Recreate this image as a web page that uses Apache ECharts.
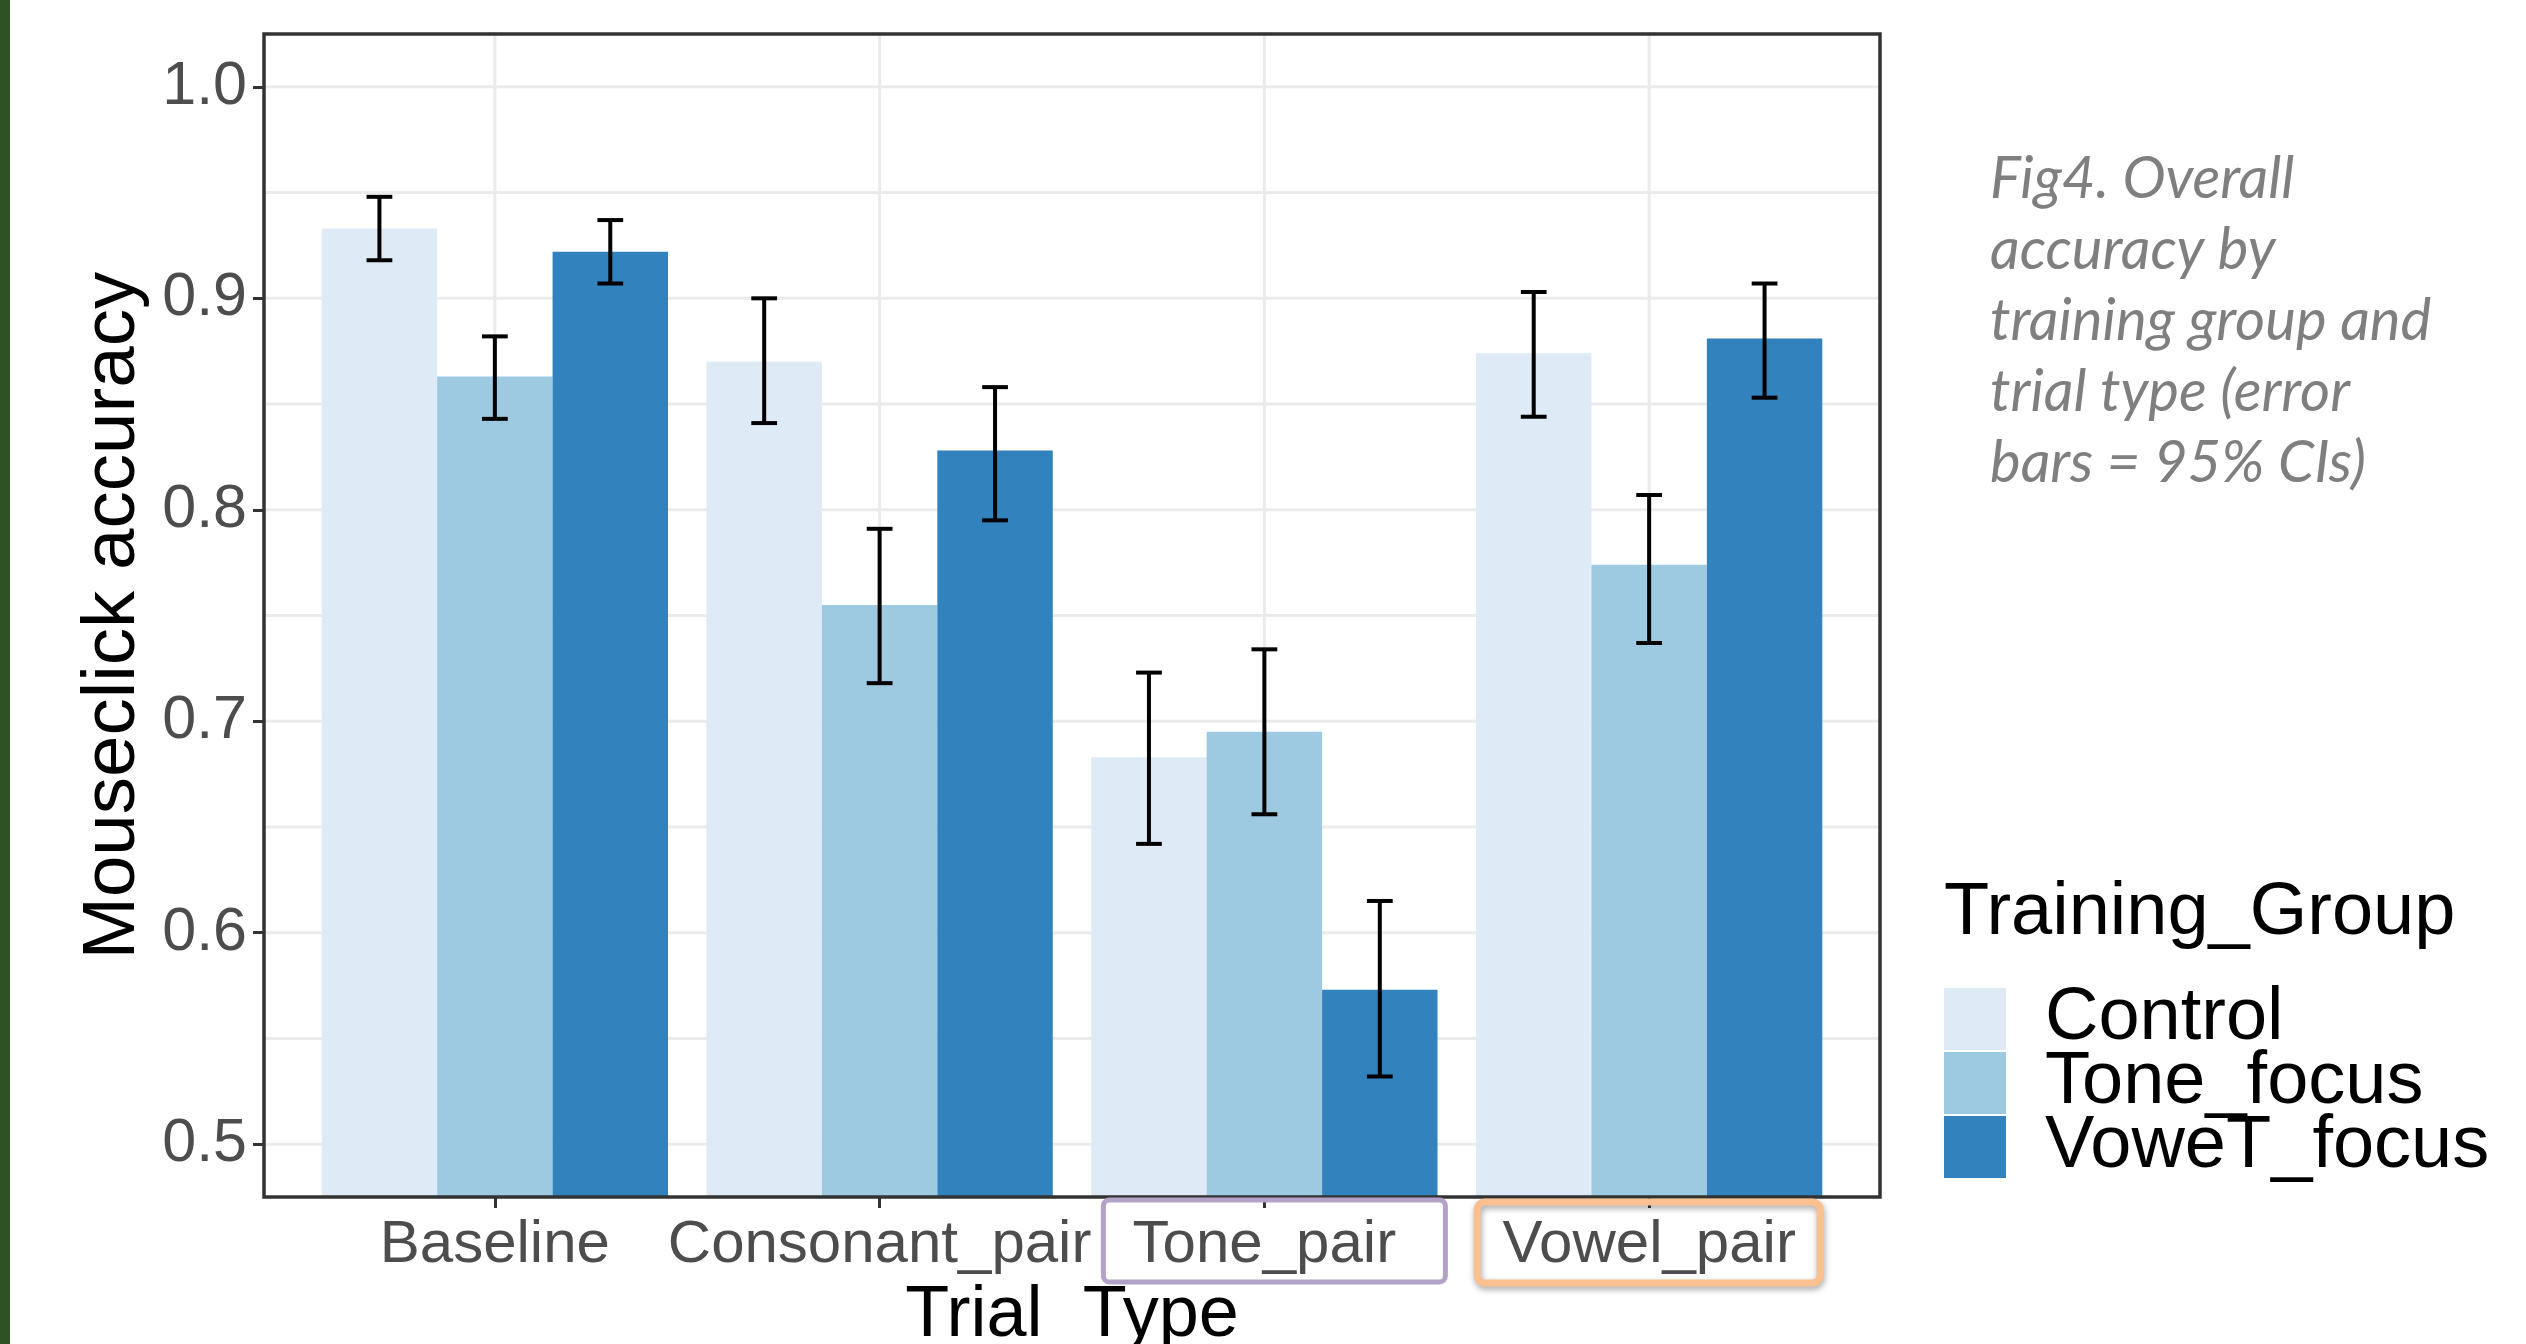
<!DOCTYPE html>
<html><head><meta charset="utf-8">
<script src="https://cdn.jsdelivr.net/npm/echarts@6/dist/echarts.min.js"></script>
<style>html,body{margin:0;padding:0;background:#fff}#c{width:2526px;height:1344px}</style>
</head><body><div id="c"></div>
<script>
// ---- data ----
const categories = ['Baseline', 'Consonant_pair', 'Tone_pair', 'Vowel_pair'];
const groups = ['Control', 'Tone_focus', 'VoweT_focus'];
const controlMean = [0.933, 0.870, 0.683, 0.874];
const controlLow  = [0.918, 0.841, 0.642, 0.844];
const controlHigh = [0.948, 0.900, 0.723, 0.903];
const toneMean = [0.863, 0.755, 0.695, 0.774];
const toneLow  = [0.843, 0.718, 0.656, 0.737];
const toneHigh = [0.882, 0.791, 0.734, 0.807];
const vowelMean = [0.922, 0.828, 0.573, 0.881];
const vowelLow  = [0.907, 0.795, 0.532, 0.853];
const vowelHigh = [0.937, 0.858, 0.615, 0.907];
const yMajorTicks = [0.5, 0.6, 0.7, 0.8, 0.9, 1.0];
const yMinorTicks = [0.55, 0.65, 0.75, 0.85, 0.95];
const captionLines = ['Fig4. Overall', 'accuracy by', 'training group and', 'trial type (error', 'bars = 95% CIs)'];

// ---- style ----
const colors = ['#DEEBF7', '#9ECAE1', '#3182BD'];
const means = [controlMean, toneMean, vowelMean];
const lows = [controlLow, toneLow, vowelLow];
const highs = [controlHigh, toneHigh, vowelHigh];
const offsets = [-0.3, 0, 0.3];
const barUnit = 0.3, capUnit = 0.067;
const FONT = '"Liberation Sans", Arial, sans-serif';
const catIdx = categories.map((c, i) => i);

const chart = echarts.init(document.getElementById('c'), null, {renderer: 'canvas'});

const gridLineSeries = {
  type: 'custom', name: 'hgrid', silent: true, z: 0,
  data: yMajorTicks.concat(yMinorTicks).map(v => [0, v]),
  renderItem(params, api) {
    const cs = params.coordSys;
    const p = api.coord([0, api.value(1)]);
    return {type: 'line', shape: {x1: cs.x, y1: p[1], x2: cs.x + cs.width, y2: p[1]},
      style: {stroke: '#EBEBEB', lineWidth: 3}};
  }
};
const vGridSeries = {
  type: 'custom', name: 'vgrid', silent: true, z: 0,
  data: catIdx.map(i => [i, 0.5]),
  renderItem(params, api) {
    const cs = params.coordSys;
    const p = api.coord([api.value(0), 0.5]);
    return {type: 'line', shape: {x1: p[0], y1: cs.y, x2: p[0], y2: cs.y + cs.height},
      style: {stroke: '#EBEBEB', lineWidth: 3}};
  }
};

function barSeries(gi) {
  return {
    type: 'custom', name: groups[gi], z: 2 + gi,
    itemStyle: {color: colors[gi]},
    data: catIdx.map(i => [i, means[gi][i]]),
    encode: {x: 0, y: 1},
    renderItem(params, api) {
      const xc = api.value(0) + offsets[gi];
      const top = api.coord([xc, api.value(1)]);
      const cs = params.coordSys;
      const w = api.size([barUnit, 0])[0];
      return {type: 'rect', shape: {x: top[0] - w / 2, y: top[1], width: w, height: cs.y + cs.height - top[1]},
        style: {fill: colors[gi]}};
    }
  };
}
function errSeries(gi) {
  return {
    type: 'custom', name: 'err' + gi, z: 10, silent: true,
    data: catIdx.map(i => [i, lows[gi][i], highs[gi][i]]),
    encode: {x: 0, y: [1, 2]},
    renderItem(params, api) {
      const xc = api.value(0) + offsets[gi];
      const lo = api.coord([xc, api.value(1)]);
      const hi = api.coord([xc, api.value(2)]);
      const cw = api.size([capUnit, 0])[0];
      const st = {stroke: '#000', lineWidth: 4};
      return {type: 'group', children: [
        {type: 'line', shape: {x1: lo[0], y1: hi[1], x2: lo[0], y2: lo[1]}, style: st},
        {type: 'line', shape: {x1: lo[0] - cw / 2, y1: hi[1], x2: lo[0] + cw / 2, y2: hi[1]}, style: st},
        {type: 'line', shape: {x1: lo[0] - cw / 2, y1: lo[1], x2: lo[0] + cw / 2, y2: lo[1]}, style: st}
      ]};
    }
  };
}

const option = {
  backgroundColor: '#fff',
  animation: false,
  textStyle: {fontFamily: FONT},
  grid: {left: 264, top: 34, right: 646, bottom: 147, show: true, borderColor: '#333333', borderWidth: 3.5,
    backgroundColor: 'transparent', z: 20, containLabel: false, outerBoundsMode: 'none'},
  xAxis: {
    type: 'value', min: -0.6, max: 3.6,
    name: 'Trial_Type', nameLocation: 'middle', nameGap: 82,
    nameTextStyle: {fontSize: 72, color: '#000', fontFamily: FONT},
    axisLine: {show: false, onZero: false},
    axisTick: {show: true, length: 11, lineStyle: {color: '#333', width: 3}, customValues: catIdx},
    axisLabel: {show: true, customValues: catIdx, fontSize: 60, color: '#4D4D4D', margin: 18, fontFamily: FONT,
      hideOverlap: false, formatter: v => categories[Math.round(v)] || ''},
    splitLine: {show: false}
  },
  yAxis: {
    type: 'value', min: 0.475, max: 1.025,
    name: 'Mouseclick accuracy', nameLocation: 'middle', nameRotate: 90, nameGap: 97,
    nameTextStyle: {fontSize: 74.5, color: '#000', fontFamily: FONT},
    axisLine: {show: false, onZero: false},
    axisTick: {show: true, length: 11, lineStyle: {color: '#333', width: 3}, customValues: yMajorTicks},
    axisLabel: {show: true, customValues: yMajorTicks, fontSize: 61, color: '#4D4D4D', margin: 17, fontFamily: FONT,
      formatter: v => v.toFixed(1)},
    splitLine: {show: false}
  },
  legend: {
    data: groups, orient: 'vertical', left: 1939, top: 977,
    itemWidth: 62, itemHeight: 62, itemGap: -10, icon: 'rect', selectedMode: false,
    textStyle: {fontSize: 74, color: '#000', padding: [0, 0, 0, 34], fontFamily: FONT}
  },
  series: [gridLineSeries, vGridSeries, barSeries(0), barSeries(1), barSeries(2), errSeries(0), errSeries(1), errSeries(2)]
};
chart.setOption(option);

const pTone = chart.convertToPixel({xAxisIndex: 0, yAxisIndex: 0}, [2, 0.5]);
const pVowel = chart.convertToPixel({xAxisIndex: 0, yAxisIndex: 0}, [3, 0.5]);
chart.setOption({
  graphic: [
    {type: 'rect', id: 'greenbar', left: 0, top: 0, shape: {width: 10, height: 1344}, style: {fill: '#2E5224'}, z: 50},
    {type: 'text', id: 'legtitle', left: 1944, top: 877, style: {text: 'Training_Group', fontSize: 74, fontFamily: FONT, fill: '#000'}, z: 50},
    {type: 'text', id: 'caption', left: 1990, top: 144, style: {text: captionLines.join('\n'), fontSize: 58, fontStyle: 'italic', fontFamily: 'Lato, "Open Sans", sans-serif', fill: '#7F7F7F', lineHeight: 71}, z: 50},
    {type: 'rect', id: 'toneBox', shape: {x: pTone[0] - 161, y: 1200, width: 342, height: 82, r: 6},
      style: {fill: 'none', stroke: '#B3A2C7', lineWidth: 5}, z: 50},
    {type: 'rect', id: 'vowelBox', shape: {x: pVowel[0] - 172, y: 1202, width: 343, height: 81, r: 8},
      style: {fill: 'none', stroke: '#FAC090', lineWidth: 7, shadowBlur: 6, shadowOffsetY: 3, shadowOffsetX: 1, shadowColor: 'rgba(0,0,0,0.35)'}, z: 50}
  ]
});
</script>
</body></html>
